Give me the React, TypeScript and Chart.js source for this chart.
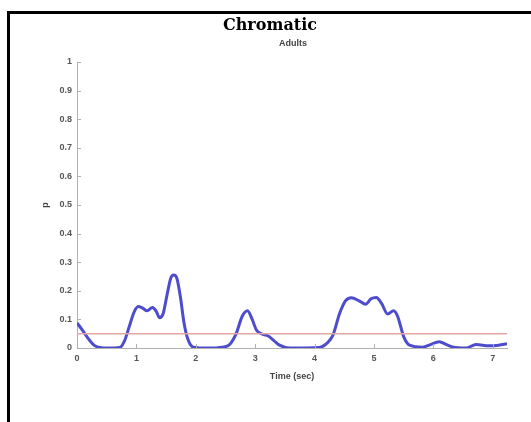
import React, { useEffect, useRef } from "react";
import { Chart, registerables } from "chart.js";

Chart.register(...registerables);

const chartTitle = "Chromatic";
const subTitle = "Adults";
const xAxisLabel = "Time (sec)";
const yAxisLabel = "p";

const timeSec = [0, 0.1, 0.2, 0.3, 0.5, 0.72, 0.8, 0.88, 0.96, 1.03, 1.1, 1.18, 1.27, 1.33, 1.39, 1.45, 1.52, 1.58, 1.63, 1.68, 1.74, 1.8, 1.86, 1.96, 2.2, 2.45, 2.57, 2.68, 2.78, 2.87, 2.95, 3.02, 3.12, 3.22, 3.32, 3.41, 3.58, 4.08, 4.2, 4.31, 4.42, 4.52, 4.62, 4.75, 4.86, 4.95, 5.04, 5.13, 5.23, 5.33, 5.4, 5.45, 5.5, 5.6, 5.82, 5.95, 6.1, 6.22, 6.32, 6.55, 6.72, 6.94, 7.1, 7.24];
const pValues = [0.088, 0.06, 0.03, 0.008, 0, 0.002, 0.025, 0.075, 0.125, 0.145, 0.14, 0.13, 0.142, 0.13, 0.106, 0.12, 0.19, 0.245, 0.255, 0.245, 0.18, 0.09, 0.035, 0.003, 0, 0.003, 0.012, 0.05, 0.11, 0.13, 0.1, 0.063, 0.048, 0.042, 0.025, 0.01, 0, 0.002, 0.015, 0.045, 0.12, 0.165, 0.176, 0.165, 0.153, 0.172, 0.177, 0.155, 0.119, 0.13, 0.11, 0.075, 0.04, 0.01, 0.003, 0.012, 0.022, 0.012, 0.004, 0, 0.012, 0.008, 0.01, 0.015];
const thresholdP = 0.05;
const xMin = 0;
const xMax = 7.24;
const yMin = 0;
const yMax = 1;

const inwardTicks = {
  id: "inwardTicks",
  afterDraw(chart: any) {
    const { ctx, scales } = chart;
    const xs = scales.x;
    const ys = scales.y;
    ctx.save();
    ctx.strokeStyle = "#b0b0b0";
    ctx.lineWidth = 1;
    ctx.beginPath();
    xs.ticks.forEach((t: any) => {
      const px = Math.round(xs.getPixelForValue(t.value)) + 0.5;
      ctx.moveTo(px, ys.bottom);
      ctx.lineTo(px, ys.bottom - 4);
    });
    ys.ticks.forEach((t: any) => {
      const py = Math.round(ys.getPixelForValue(t.value)) + 0.5;
      ctx.moveTo(xs.left, py);
      ctx.lineTo(xs.left + 4, py);
    });
    ctx.stroke();
    ctx.restore();
  },
};

export default function App() {
  const canvasRef = useRef<HTMLCanvasElement>(null);

  useEffect(() => {
    if (!canvasRef.current) return;
    const chart = new Chart(canvasRef.current, {
      type: "line",
      data: {
        datasets: [
          {
            label: "threshold",
            data: [
              { x: xMin, y: thresholdP },
              { x: xMax, y: thresholdP },
            ],
            borderColor: "rgb(228,165,165)",
            borderWidth: 1.5,
            pointRadius: 0,
            tension: 0,
          },
          {
            label: "p",
            data: timeSec.map((t, i) => ({ x: t, y: pValues[i] })),
            borderColor: "rgb(76,76,205)",
            borderWidth: 3,
            pointRadius: 0,
            cubicInterpolationMode: "monotone",
          },
        ],
      },
      options: {
        responsive: false,
        animation: false,
        layout: { padding: { left: 0, right: 24, top: 62, bottom: 34 } },
        plugins: {
          legend: { display: false },
          tooltip: { enabled: false },
          title: { display: false },
        },
        scales: {
          x: {
            type: "linear",
            min: xMin,
            max: xMax,
            afterFit: (s: any) => {
              s.height = 40;
            },
            ticks: {
              stepSize: 1,
              includeBounds: false,
              padding: 5,
              color: "#555",
              font: { family: "Liberation Sans", size: 9, weight: "bold" },
              maxRotation: 0,
            },
            grid: { display: false, drawTicks: false },
            border: { display: true, color: "#b0b0b0", width: 1 },
            title: {
              display: true,
              text: xAxisLabel,
              color: "#444",
              font: { family: "Liberation Sans", size: 9, weight: "bold" },
              padding: { top: 0, bottom: 6 },
            },
          },
          y: {
            type: "linear",
            min: yMin,
            max: yMax,
            afterFit: (s: any) => {
              s.width = 77;
            },
            ticks: {
              stepSize: 0.1,
              padding: 5,
              color: "#555",
              font: { family: "Liberation Sans", size: 9, weight: "bold" },
              callback: (v: any) => String(Math.round(Number(v) * 10) / 10),
            },
            grid: { display: false, drawTicks: false },
            border: { display: true, color: "#b0b0b0", width: 1 },
            title: {
              display: true,
              text: yAxisLabel,
              color: "#444",
              font: { family: "Liberation Sans", size: 9, weight: "bold" },
              padding: { top: 40, bottom: 0 },
            },
          },
        },
      },
      plugins: [inwardTicks],
    } as any);
    return () => chart.destroy();
  }, []);

  return (
    <div style={{ position: "fixed", left: 0, top: 0, width: 531, height: 422, background: "#fff" }}>
      <div
        style={{
          position: "absolute",
          left: 7,
          top: 11,
          width: 524,
          height: 411,
          borderTop: "3px solid #000",
          borderLeft: "3px solid #000",
          boxSizing: "border-box",
        }}
      />
      <canvas
        ref={canvasRef}
        width={531}
        height={422}
        style={{ position: "absolute", left: 0, top: 0, width: 531, height: 422 }}
      />
      <div
        style={{
          position: "absolute",
          left: 170,
          width: 200,
          top: 15,
          textAlign: "center",
          fontFamily: "'DejaVu Serif', serif",
          fontWeight: "bold",
          fontSize: 16,
          lineHeight: "20px",
          color: "#000",
        }}
      >
        {chartTitle}
      </div>
      <div
        style={{
          position: "absolute",
          left: 243,
          width: 100,
          top: 37,
          textAlign: "center",
          fontFamily: "'Liberation Sans', sans-serif",
          fontWeight: "bold",
          fontSize: 9,
          lineHeight: "12px",
          color: "#444",
        }}
      >
        {subTitle}
      </div>
    </div>
  );
}
